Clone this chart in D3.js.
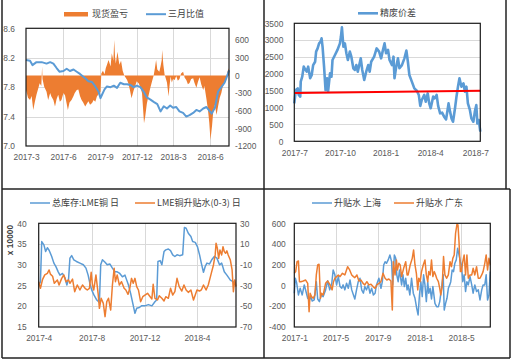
<!DOCTYPE html>
<html>
<head>
<meta charset="utf-8">
<script src="https://cdn.jsdelivr.net/npm/d3@7"></script>
<style>
  body { margin: 0; background: #fff; }
  svg { display: block; }
</style>
</head>
<body>
<script>
// ---- data ----
const p1Dates = ['2017-03-01', '2017-06-01', '2017-09-01', '2017-12-01', '2018-03-01', '2018-06-01']
const p1Left = [7.0, 7.4, 7.8, 8.2, 8.6]
const p1Right = [-1200, -900, -600, -300, 0, 300, 600]

// 现货盈亏 (right axis)
const spotPL = [
  ['2017-03-01', -250], ['2017-03-06', -380], ['2017-03-11', -420], ['2017-03-15', -350], ['2017-03-19', -590],
  ['2017-03-23', -450], ['2017-03-27', -330], ['2017-03-31', -230], ['2017-04-04', -135], ['2017-04-08', -180],
  ['2017-04-10', 150], ['2017-04-11', -60], ['2017-04-15', -190], ['2017-04-21', -280], ['2017-04-25', -420],
  ['2017-04-30', -300], ['2017-05-03', -360], ['2017-05-08', -420], ['2017-05-12', -530], ['2017-05-16', -400],
  ['2017-05-20', -330], ['2017-05-24', -450], ['2017-05-28', -420], ['2017-06-02', -300], ['2017-06-06', -340],
  ['2017-06-10', -480], ['2017-06-13', -590], ['2017-06-17', -460], ['2017-06-22', -420], ['2017-06-27', -350],
  ['2017-06-30', -300], ['2017-07-05', -250], ['2017-07-09', -240], ['2017-07-13', -350], ['2017-07-17', -420],
  ['2017-07-21', -460], ['2017-07-26', -530], ['2017-07-30', -480], ['2017-08-03', -440], ['2017-08-07', -500],
  ['2017-08-12', -470], ['2017-08-16', -420], ['2017-08-20', -450], ['2017-08-24', -360], ['2017-08-28', -320],
  ['2017-09-02', -280], ['2017-09-04', 30], ['2017-09-08', 80], ['2017-09-12', 20], ['2017-09-15', 120],
  ['2017-09-18', 180], ['2017-09-22', 260], ['2017-09-27', 150], ['2017-09-30', 375], ['2017-10-04', 250],
  ['2017-10-06', 600], ['2017-10-08', 320], ['2017-10-10', 200], ['2017-10-12', 300], ['2017-10-14', 400],
  ['2017-10-17', 260], ['2017-10-19', 180], ['2017-10-23', 250], ['2017-10-27', 80], ['2017-10-31', 0],
  ['2017-11-07', -80], ['2017-11-10', -135], ['2017-11-14', -250], ['2017-11-18', -390], ['2017-11-23', -260],
  ['2017-11-27', -180], ['2017-12-01', -100], ['2017-12-06', -140], ['2017-12-10', -200], ['2017-12-14', -300],
  ['2017-12-17', -600], ['2017-12-19', -815], ['2017-12-22', -700], ['2017-12-26', -480], ['2017-12-30', -350],
  ['2018-01-04', -200], ['2018-01-08', -100], ['2018-01-12', 0], ['2018-01-15', 120], ['2018-01-18', 260],
  ['2018-01-21', 100], ['2018-01-26', 60], ['2018-01-29', 150], ['2018-02-01', 260], ['2018-02-02', 430],
  ['2018-02-05', 180], ['2018-02-08', 20], ['2018-02-14', -120], ['2018-02-18', -360], ['2018-02-20', -200],
  ['2018-02-23', -20], ['2018-02-26', -120], ['2018-03-01', -60], ['2018-03-05', -80], ['2018-03-09', -10],
  ['2018-03-13', -90], ['2018-03-17', -60], ['2018-03-21', 30], ['2018-03-26', 60], ['2018-03-30', -40],
  ['2018-04-03', -80], ['2018-04-07', -150], ['2018-04-11', -130], ['2018-04-15', -60], ['2018-04-20', -50],
  ['2018-04-23', -120], ['2018-04-28', -210], ['2018-05-02', -110], ['2018-05-06', -30], ['2018-05-10', -150],
  ['2018-05-15', -250], ['2018-05-18', -180], ['2018-05-23', -400], ['2018-05-27', -600], ['2018-05-30', -800],
  ['2018-06-02', -1100], ['2018-06-06', -850], ['2018-06-09', -600], ['2018-06-13', -500], ['2018-06-17', -675],
  ['2018-06-21', -520], ['2018-06-25', -380], ['2018-06-29', -300], ['2018-07-02', -200], ['2018-07-07', -120],
  ['2018-07-11', -40], ['2018-07-14', 60], ['2018-07-18', 120]
]

// 三月比值 (left axis)
const ratio3m = [
  ['2017-03-01', 8.17], ['2017-03-11', 8.16], ['2017-03-17', 8.10], ['2017-03-27', 8.14], ['2017-04-09', 8.14],
  ['2017-04-21', 8.12], ['2017-04-30', 8.14], ['2017-05-08', 8.12], ['2017-05-16', 8.06], ['2017-05-23', 8.01],
  ['2017-06-02', 8.02], ['2017-06-10', 8.05], ['2017-06-18', 8.02], ['2017-06-27', 8.04], ['2017-07-05', 8.01],
  ['2017-07-13', 7.98], ['2017-07-26', 7.92], ['2017-08-03', 7.88], ['2017-08-12', 7.87], ['2017-08-20', 7.81],
  ['2017-08-28', 7.74], ['2017-09-02', 7.65], ['2017-09-06', 7.70], ['2017-09-12', 7.77], ['2017-09-18', 7.81],
  ['2017-09-27', 7.80], ['2017-10-05', 7.82], ['2017-10-13', 7.79], ['2017-10-21', 7.86], ['2017-10-30', 7.84],
  ['2017-11-07', 7.84], ['2017-11-15', 7.83], ['2017-11-23', 7.80], ['2017-12-01', 7.82], ['2017-12-10', 7.80],
  ['2017-12-18', 7.74], ['2017-12-26', 7.66], ['2018-01-04', 7.63], ['2018-01-12', 7.60], ['2018-01-21', 7.57],
  ['2018-01-29', 7.47], ['2018-02-06', 7.54], ['2018-02-14', 7.51], ['2018-02-22', 7.55], ['2018-03-01', 7.52],
  ['2018-03-09', 7.53], ['2018-03-17', 7.47], ['2018-03-26', 7.45], ['2018-04-03', 7.40], ['2018-04-11', 7.42],
  ['2018-04-20', 7.45], ['2018-04-28', 7.49], ['2018-05-06', 7.47], ['2018-05-15', 7.51], ['2018-05-23', 7.53],
  ['2018-05-30', 7.48], ['2018-06-05', 7.44], ['2018-06-13', 7.52], ['2018-06-21', 7.74], ['2018-06-29', 7.80],
  ['2018-07-07', 7.86], ['2018-07-16', 7.99], ['2018-07-18', 8.03]
]

const p2Dates = ['2017-07-01', '2017-10-01', '2018-01-01', '2018-04-01', '2018-07-01']
const p2Vals = [0, 500, 1000, 1500, 2000, 2500, 3000, 3500]

// 精废价差
const scrapSpread = [
  ['2017-07-01', 1125], ['2017-07-04', 1520], ['2017-07-08', 1570], ['2017-07-10', 1375], ['2017-07-13', 1325],
  ['2017-07-14', 1770], ['2017-07-17', 1915], ['2017-07-20', 2215], ['2017-07-22', 2160], ['2017-07-26', 2065],
  ['2017-07-29', 2215], ['2017-08-02', 1870], ['2017-08-05', 1960], ['2017-08-08', 2260], ['2017-08-12', 2360],
  ['2017-08-14', 2660], ['2017-08-17', 2755], ['2017-08-20', 2905], ['2017-08-23', 2955], ['2017-08-25', 3055],
  ['2017-08-27', 2800], ['2017-08-30', 2215], ['2017-09-02', 1520], ['2017-09-05', 1870], ['2017-09-07', 1470],
  ['2017-09-11', 2015], ['2017-09-14', 1915], ['2017-09-16', 2410], ['2017-09-21', 2560], ['2017-09-26', 2710],
  ['2017-10-01', 2905], ['2017-10-03', 3100], ['2017-10-05', 3380], ['2017-10-08', 2805], ['2017-10-11', 2905],
  ['2017-10-14', 2610], ['2017-10-17', 2410], ['2017-10-21', 2660], ['2017-10-24', 2510], ['2017-10-28', 2165],
  ['2017-10-31', 2115], ['2017-11-03', 2260], ['2017-11-06', 2065], ['2017-11-12', 2460], ['2017-11-15', 2115],
  ['2017-11-19', 1820], ['2017-11-23', 2065], ['2017-11-27', 2260], ['2017-11-30', 2065], ['2017-12-03', 2360],
  ['2017-12-09', 2510], ['2017-12-14', 2755], ['2017-12-19', 2660], ['2017-12-23', 2460], ['2017-12-26', 2660],
  ['2017-12-30', 2905], ['2018-01-02', 2610], ['2018-01-06', 2710], ['2018-01-09', 2410], ['2018-01-14', 2260],
  ['2018-01-17', 2510], ['2018-01-19', 1870], ['2018-01-22', 2165], ['2018-01-26', 2460], ['2018-01-29', 2165],
  ['2018-02-03', 2260], ['2018-02-08', 2460], ['2018-02-12', 2690], ['2018-02-15', 2360], ['2018-02-18', 1965],
  ['2018-02-23', 1770], ['2018-02-28', 1570], ['2018-03-05', 1500], ['2018-03-09', 1375], ['2018-03-12', 1050],
  ['2018-03-15', 1225], ['2018-03-20', 1375], ['2018-03-23', 1175], ['2018-03-27', 1420], ['2018-03-30', 1125],
  ['2018-04-02', 980], ['2018-04-07', 1325], ['2018-04-10', 1275], ['2018-04-14', 1375], ['2018-04-17', 1050],
  ['2018-04-21', 830], ['2018-04-25', 850], ['2018-04-29', 730], ['2018-05-03', 650], ['2018-05-06', 930],
  ['2018-05-08', 1125], ['2018-05-11', 880], ['2018-05-14', 680], ['2018-05-17', 580], ['2018-05-21', 980],
  ['2018-05-24', 1325], ['2018-05-27', 1620], ['2018-05-30', 1870], ['2018-06-03', 1620], ['2018-06-07', 1720],
  ['2018-06-10', 1470], ['2018-06-13', 1620], ['2018-06-16', 1125], ['2018-06-20', 930], ['2018-06-23', 680],
  ['2018-06-27', 580], ['2018-06-30', 880], ['2018-07-03', 1075], ['2018-07-05', 530], ['2018-07-08', 630],
  ['2018-07-11', 285]
]
// red trend line, start and end value
const spreadTrend = [1430, 1500]

const p3Dates = ['2017-04-01', '2017-08-01', '2017-12-01', '2018-04-01']
const p3Left = [15, 20, 25, 30, 35, 40]
const p3Right = [-70, -50, -30, -10, 10, 30]

// 总库存:LME铜 日 (left axis, x 10000)
const lmeStock = [
  ['2017-04-01', 25.1], ['2017-04-05', 25.9], ['2017-04-08', 35.6], ['2017-04-13', 34.8], ['2017-04-17', 33.2],
  ['2017-04-21', 34.1], ['2017-04-25', 33.5], ['2017-05-01', 32.0], ['2017-05-06', 30.4], ['2017-05-11', 29.5],
  ['2017-05-16', 28.3], ['2017-05-20', 27.5], ['2017-05-26', 27.9], ['2017-06-01', 26.7], ['2017-06-05', 25.1],
  ['2017-06-09', 26.7], ['2017-06-12', 31.6], ['2017-06-16', 32.2], ['2017-06-21', 31.2], ['2017-06-27', 30.8],
  ['2017-07-05', 30.4], ['2017-07-13', 30.0], ['2017-07-19', 29.2], ['2017-07-24', 27.5], ['2017-07-28', 25.5],
  ['2017-08-01', 24.0], ['2017-08-06', 22.8], ['2017-08-13', 21.5], ['2017-08-19', 20.9], ['2017-08-22', 30.0],
  ['2017-08-26', 31.2], ['2017-09-01', 30.6], ['2017-09-06', 30.0], ['2017-09-12', 30.2], ['2017-09-18', 29.2],
  ['2017-09-24', 28.3], ['2017-09-29', 28.3], ['2017-10-05', 27.9], ['2017-10-11', 27.1], ['2017-10-17', 27.5],
  ['2017-10-21', 26.3], ['2017-10-25', 25.1], ['2017-10-30', 23.1], ['2017-11-04', 20.7], ['2017-11-09', 18.3],
  ['2017-11-13', 19.5], ['2017-11-19', 19.7], ['2017-11-24', 20.1], ['2017-12-02', 20.1], ['2017-12-10', 20.4],
  ['2017-12-18', 20.1], ['2017-12-25', 21.1], ['2017-12-29', 21.5], ['2018-01-01', 30.8], ['2018-01-06', 31.0],
  ['2018-01-10', 30.0], ['2018-01-15', 33.2], ['2018-01-19', 33.6], ['2018-01-25', 33.8], ['2018-01-30', 33.4],
  ['2018-02-04', 32.4], ['2018-02-09', 32.0], ['2018-02-14', 32.4], ['2018-02-20', 32.2], ['2018-02-27', 32.4],
  ['2018-03-03', 39.0], ['2018-03-07', 38.8], ['2018-03-12', 37.6], ['2018-03-18', 36.8], ['2018-03-22', 35.6],
  ['2018-03-28', 35.4], ['2018-04-02', 34.4], ['2018-04-07', 32.4], ['2018-04-11', 30.4], ['2018-04-16', 28.2],
  ['2018-04-20', 29.6], ['2018-04-24', 30.4], ['2018-04-30', 30.2], ['2018-05-05', 31.2], ['2018-05-11', 32.0],
  ['2018-05-17', 31.6], ['2018-05-23', 30.0], ['2018-05-28', 30.4], ['2018-06-03', 28.3], ['2018-06-09', 27.5],
  ['2018-06-17', 26.3], ['2018-06-24', 25.9], ['2018-06-29', 25.1]
]

// LME铜升贴水(0-3) 日 (right axis)
const lmeSpread = [
  ['2017-04-01', -26.3], ['2017-04-05', -32.7], ['2017-04-10', -24], ['2017-04-15', -19.8], ['2017-04-21', -18.2],
  ['2017-04-25', -15.0], ['2017-04-28', -19], ['2017-05-03', -21], ['2017-05-07', -27.9], ['2017-05-14', -24.6],
  ['2017-05-18', -29.5], ['2017-05-24', -23.1], ['2017-05-29', -19.8], ['2017-06-03', -26.3], ['2017-06-09', -24.6],
  ['2017-06-12', -27.9], ['2017-06-18', -23.8], ['2017-06-23', -35.9], ['2017-06-29', -29.5], ['2017-07-05', -34.3],
  ['2017-07-11', -29.5], ['2017-07-17', -32.7], ['2017-07-22', -34.3], ['2017-07-27', -32.7], ['2017-07-31', -17.3],
  ['2017-08-03', -29.5], ['2017-08-06', -34.3], ['2017-08-11', -19.8], ['2017-08-16', -37.5], ['2017-08-19', -52.0],
  ['2017-08-23', -42.3], ['2017-08-28', -47.2], ['2017-09-01', -60.0], ['2017-09-05', -45.6], ['2017-09-09', -42.3],
  ['2017-09-14', -53.6], ['2017-09-18', -29.5], ['2017-09-22', -13.4], ['2017-09-25', -26.3], ['2017-09-29', -19.8],
  ['2017-10-04', -29.5], ['2017-10-09', -26.3], ['2017-10-15', -32.7], ['2017-10-19', -34.3], ['2017-10-24', -38.5],
  ['2017-10-28', -32.7], ['2017-11-01', -23.1], ['2017-11-05', -27.9], ['2017-11-09', -23.1], ['2017-11-13', -31.1],
  ['2017-11-17', -34.3], ['2017-11-22', -45.6], ['2017-11-27', -40.8], ['2017-12-02', -39.2], ['2017-12-08', -37.5],
  ['2017-12-14', -40.8], ['2017-12-18', -43.0], ['2017-12-21', -28.8], ['2017-12-25', -42.3], ['2017-12-31', -43.9],
  ['2018-01-04', -39.8], ['2018-01-10', -42.3], ['2018-01-15', -44.9], ['2018-01-19', -40.8], ['2018-01-25', -42.3],
  ['2018-01-30', -32.7], ['2018-02-04', -39.2], ['2018-02-09', -35.9], ['2018-02-14', -23.1], ['2018-02-19', -31.1],
  ['2018-02-25', -35.3], ['2018-03-02', -29.5], ['2018-03-07', -34.3], ['2018-03-12', -36.6], ['2018-03-18', -34.3],
  ['2018-03-24', -44.0], ['2018-03-28', -39.2], ['2018-04-01', -34.3], ['2018-04-07', -35.3], ['2018-04-11', -34.3],
  ['2018-04-16', -29.5], ['2018-04-22', -34.3], ['2018-04-27', -29.5], ['2018-05-01', -23.1], ['2018-05-05', -16.6],
  ['2018-05-09', -10.2], ['2018-05-13', -0.5], ['2018-05-15', 10.7], ['2018-05-18', 5.9], ['2018-05-21', -3.8],
  ['2018-05-24', 4.3], ['2018-05-28', -0.5], ['2018-05-31', 7.5], ['2018-06-03', 2.7], ['2018-06-06', 1.1],
  ['2018-06-09', 3.4], ['2018-06-12', -0.5], ['2018-06-17', -5.4], ['2018-06-21', -15.0], ['2018-06-24', -35.9],
  ['2018-06-27', -24.6], ['2018-06-30', -31.1]
]

const p4Dates = ['2017-01-01', '2017-05-01', '2017-09-01', '2018-01-01', '2018-05-01']
const p4Vals = [-400, -200, 0, 200, 400, 600]

// 升贴水 上海
const premSH = [
  ['2017-01-01', -74], ['2017-01-04', 70], ['2017-01-08', 22], ['2017-01-13', -91], ['2017-01-18', -27],
  ['2017-01-24', -91], ['2017-01-30', 6], ['2017-02-04', -58], ['2017-02-09', -123], ['2017-02-14', -139],
  ['2017-02-18', -107], ['2017-02-22', -149], ['2017-02-28', -139], ['2017-03-06', 37], ['2017-03-10', -130],
  ['2017-03-15', -155], ['2017-03-20', -91], ['2017-03-26', -107], ['2017-04-02', -42], ['2017-04-08', 45],
  ['2017-04-14', -42], ['2017-04-20', 22], ['2017-04-24', 150], ['2017-04-29', 103], ['2017-05-04', 6],
  ['2017-05-09', 86], ['2017-05-14', -10], ['2017-05-19', -27], ['2017-05-23', 6], ['2017-05-28', -42],
  ['2017-06-02', 22], ['2017-06-07', -27], ['2017-06-12', 54], ['2017-06-17', -42], ['2017-06-22', -91],
  ['2017-06-26', -130], ['2017-07-01', -42], ['2017-07-06', 37], ['2017-07-11', 70], ['2017-07-16', -42],
  ['2017-07-21', -74], ['2017-07-25', -10], ['2017-07-30', -42], ['2017-08-04', 6], ['2017-08-09', -74],
  ['2017-08-14', -27], ['2017-08-19', -91], ['2017-08-24', -74], ['2017-08-28', 6], ['2017-09-04', 70],
  ['2017-09-10', -27], ['2017-09-14', 37], ['2017-09-18', 198], ['2017-09-22', 230], ['2017-09-26', 214],
  ['2017-10-01', 247], ['2017-10-06', 295], ['2017-10-11', 230], ['2017-10-14', 6], ['2017-10-19', 295],
  ['2017-10-23', 263], ['2017-10-26', 103], ['2017-10-30', 37], ['2017-11-03', 150], ['2017-11-09', 6],
  ['2017-11-13', 103], ['2017-11-17', -10], ['2017-11-21', 70], ['2017-11-25', -42], ['2017-11-28', 6],
  ['2017-12-03', -91], ['2017-12-08', 70], ['2017-12-13', -74], ['2017-12-18', -123], ['2017-12-23', -220],
  ['2017-12-27', -284], ['2017-12-31', -91], ['2018-01-04', 37], ['2018-01-08', -107], ['2018-01-12', 103],
  ['2018-01-16', 6], ['2018-01-20', -155], ['2018-01-24', 37], ['2018-01-27', -74], ['2018-01-31', -27],
  ['2018-02-04', -130], ['2018-02-08', -10], ['2018-02-14', -172], ['2018-02-19', -204], ['2018-02-24', -204],
  ['2018-02-28', -155], ['2018-03-05', -27], ['2018-03-10', 103], ['2018-03-13', -236], ['2018-03-17', -172],
  ['2018-03-21', -123], ['2018-03-25', -27], ['2018-03-29', 6], ['2018-04-01', 37], ['2018-04-05', 150],
  ['2018-04-09', 134], ['2018-04-13', 215], ['2018-04-17', 247], ['2018-04-21', 359], ['2018-04-25', 295],
  ['2018-04-29', 230], ['2018-05-02', 198], ['2018-05-06', 37], ['2018-05-10', 103], ['2018-05-14', -58],
  ['2018-05-18', 37], ['2018-05-22', 6], ['2018-05-27', 86], ['2018-06-01', 6], ['2018-06-05', -74],
  ['2018-06-10', 6], ['2018-06-15', -58], ['2018-06-20', -42], ['2018-06-25', -139], ['2018-06-30', -42],
  ['2018-07-04', 6], ['2018-07-09', 6], ['2018-07-13', 103], ['2018-07-17', -139], ['2018-07-21', -91],
  ['2018-07-25', 135]
]

// 升贴水 广东
const premGD = [
  ['2017-01-01', 118], ['2017-01-05', 134], ['2017-01-09', 230], ['2017-01-13', 237], ['2017-01-16', 37],
  ['2017-01-20', 37], ['2017-01-27', 44], ['2017-02-03', 53], ['2017-02-09', 21], ['2017-02-13', -252],
  ['2017-02-16', -75], ['2017-02-20', -107], ['2017-02-25', -123], ['2017-03-02', -91], ['2017-03-06', 102],
  ['2017-03-10', 198], ['2017-03-14', 205], ['2017-03-18', -123], ['2017-03-21', -75], ['2017-03-26', -91],
  ['2017-04-02', 21], ['2017-04-08', 44], ['2017-04-15', 6], ['2017-04-21', -42], ['2017-04-25', 37],
  ['2017-04-29', 70], ['2017-05-04', 86], ['2017-05-09', 102], ['2017-05-14', 86], ['2017-05-21', 118],
  ['2017-05-28', 102], ['2017-06-05', 182], ['2017-06-11', 150], ['2017-06-17', 102], ['2017-06-22', 86],
  ['2017-06-26', 76], ['2017-07-02', 102], ['2017-07-08', 44], ['2017-07-14', 53], ['2017-07-20', 21],
  ['2017-07-25', 6], ['2017-07-31', 37], ['2017-08-06', 6], ['2017-08-12', 12], ['2017-08-18', -10],
  ['2017-08-24', -27], ['2017-08-29', 6], ['2017-09-04', 21], ['2017-09-10', 37], ['2017-09-16', 118],
  ['2017-09-22', 70], ['2017-09-27', 53], ['2017-10-03', 63], ['2017-10-09', 44], ['2017-10-13', -236],
  ['2017-10-16', 230], ['2017-10-21', 102], ['2017-10-25', 246], ['2017-10-28', 150], ['2017-11-01', 214],
  ['2017-11-05', 198], ['2017-11-09', 86], ['2017-11-15', 166], ['2017-11-21', 230], ['2017-11-25', 102],
  ['2017-11-28', 102], ['2017-12-04', 198], ['2017-12-10', 262], ['2017-12-14', 343], ['2017-12-18', 198],
  ['2017-12-22', 118], ['2017-12-26', -42], ['2017-12-29', 70], ['2018-01-02', 37], ['2018-01-06', 134],
  ['2018-01-11', 198], ['2018-01-16', 246], ['2018-01-20', 102], ['2018-01-24', 37], ['2018-01-27', 134],
  ['2018-01-31', 102], ['2018-02-04', 246], ['2018-02-08', 86], ['2018-02-12', 134], ['2018-02-16', 102],
  ['2018-02-19', 70], ['2018-02-24', 37], ['2018-02-28', -27], ['2018-03-03', -91], ['2018-03-07', -10],
  ['2018-03-11', 279], ['2018-03-15', 102], ['2018-03-20', 70], ['2018-03-25', 102], ['2018-03-30', 230],
  ['2018-04-03', 182], ['2018-04-07', 262], ['2018-04-11', 295], ['2018-04-15', 504], ['2018-04-19', 590],
  ['2018-04-22', 584], ['2018-04-25', 423], ['2018-04-29', 134], ['2018-05-02', 134], ['2018-05-06', 230],
  ['2018-05-10', 295], ['2018-05-14', 102], ['2018-05-18', 295], ['2018-05-22', 70], ['2018-05-27', 102],
  ['2018-06-01', 102], ['2018-06-05', 166], ['2018-06-10', 102], ['2018-06-15', 182], ['2018-06-20', 70],
  ['2018-06-25', 70], ['2018-06-30', 102], ['2018-07-04', 134], ['2018-07-09', 214], ['2018-07-13', 295],
  ['2018-07-17', 150], ['2018-07-21', 262], ['2018-07-25', 198]
]

// ---- drawing ----
const parse = d3.timeParse('%Y-%m-%d')
const fmtMonth = d3.timeFormat('%Y-%-m')
const BLUE = '#5b9bd5'
const ORANGE = '#ed7d31'
const GRID = '#d9d9d9'
const TICK_FONT = 'Liberation Sans, Arial, sans-serif'
const CJK_FONT = 'Noto Sans CJK SC, sans-serif'

let svg

function createSVG() {
  svg = d3.select('body').append('svg').attr('width', 513).attr('height', 362)
}

function plain(v) { return String(v) }

function leftAxis(y, x0, vals, pad, fmt) {
  svg.append('g')
    .attr('transform', `translate(${x0},0)`)
    .call(d3.axisLeft(y).tickValues(vals).tickSize(0).tickPadding(pad).tickFormat(fmt || plain))
    .call(g => g.select('.domain').remove())
    .attr('font-family', TICK_FONT).attr('font-size', 8.4)
    .style('color', '#595959')
}

function rightAxis(y, x0, vals, pad, fmt) {
  svg.append('g')
    .attr('transform', `translate(${x0},0)`)
    .call(d3.axisRight(y).tickValues(vals).tickSize(0).tickPadding(pad).tickFormat(fmt || plain))
    .call(g => g.select('.domain').remove())
    .attr('font-family', TICK_FONT).attr('font-size', 8.4)
    .style('color', '#595959')
}

function bottomAxis(x, y0, dates, pad) {
  svg.append('g')
    .attr('transform', `translate(0,${y0})`)
    .call(d3.axisBottom(x).tickValues(dates.map(parse)).tickSize(0).tickPadding(pad).tickFormat(fmtMonth))
    .call(g => g.select('.domain').remove())
    .attr('font-family', TICK_FONT).attr('font-size', 8.4)
    .style('color', '#595959')
}

function hGrid(y, vals, x1, x2) {
  svg.append('g').selectAll('line').data(vals).join('line')
    .attr('x1', x1).attr('x2', x2)
    .attr('y1', d => Math.round(y(d)) + 0.5).attr('y2', d => Math.round(y(d)) + 0.5)
    .attr('stroke', GRID).attr('stroke-width', 1)
}

function vGrid(x, dates, y1, y2) {
  svg.append('g').selectAll('line').data(dates.map(parse)).join('line')
    .attr('x1', d => Math.round(x(d)) + 0.5).attr('x2', d => Math.round(x(d)) + 0.5)
    .attr('y1', y1).attr('y2', y2)
    .attr('stroke', GRID).attr('stroke-width', 1)
}

function plotBorder(x1, y1, x2, y2) {
  svg.append('rect')
    .attr('x', x1).attr('y', y1).attr('width', x2 - x1).attr('height', y2 - y1)
    .attr('fill', 'none').attr('stroke', '#1a1a1a').attr('stroke-width', 1.2)
}

function drawLine(data, x, y, color, width) {
  svg.append('path')
    .datum(data)
    .attr('d', d3.line().x(d => x(parse(d[0]))).y(d => y(d[1])))
    .attr('fill', 'none').attr('stroke', color).attr('stroke-width', width)
    .attr('stroke-linejoin', 'round')
}

function legendLine(x, y, color, width, label) {
  svg.append('line')
    .attr('x1', x).attr('x2', x + 20).attr('y1', y).attr('y2', y)
    .attr('stroke', color).attr('stroke-width', width)
  svg.append('text')
    .attr('x', x + 22).attr('y', y).attr('dy', '0.35em')
    .attr('font-family', CJK_FONT).attr('font-size', 9).attr('fill', '#404040')
    .text(label)
}

function panelSpot() {
  const L = 26, R = 229, T = 28.3, B = 146
  const x = d3.scaleTime().domain([parse('2017-03-01'), parse('2018-07-18')]).range([L, R])
  const yL = d3.scaleLinear().domain([7.0, 8.6]).range([B, T])
  const yR = d3.scaleLinear().domain([-1200, 800]).range([B, T])

  hGrid(yL, p1Left.slice(1, -1), L, R)
  vGrid(x, p1Dates.slice(1), T, B)

  svg.append('path')
    .datum(spotPL)
    .attr('d', d3.area().x(d => x(parse(d[0]))).y0(yR(0)).y1(d => yR(d[1])))
    .attr('fill', ORANGE)

  drawLine(ratio3m, x, yL, BLUE, 2)
  plotBorder(L, T, R, B)

  leftAxis(yL, L, p1Left, 11, d3.format('.1f'))
  rightAxis(yR, R, p1Right, 6)
  bottomAxis(x, B, p1Dates, 8)

  svg.append('rect').attr('x', 64).attr('y', 12).attr('width', 24).attr('height', 4.5).attr('fill', ORANGE)
  svg.append('text')
    .attr('x', 92).attr('y', 14.2).attr('dy', '0.35em')
    .attr('font-family', CJK_FONT).attr('font-size', 9).attr('fill', '#404040')
    .text('现货盈亏')
  legendLine(146, 14.2, BLUE, 2, '三月比值')
}

function panelScrap() {
  const L = 294.3, R = 480.3, T = 23.3, B = 141.3
  const x = d3.scaleTime().domain([parse('2017-07-01'), parse('2018-07-11')]).range([L, R])
  const y = d3.scaleLinear().domain([0, 3500]).range([B, T])

  hGrid(y, p2Vals.slice(1, -1), L, R)
  drawLine(scrapSpread, x, y, BLUE, 2.6)

  svg.append('line')
    .attr('x1', x(parse(scrapSpread[0][0]))).attr('y1', y(spreadTrend[0]))
    .attr('x2', x(parse(scrapSpread[scrapSpread.length - 1][0]))).attr('y2', y(spreadTrend[1]))
    .attr('stroke', '#ff0000').attr('stroke-width', 2)

  plotBorder(L, T, R, B)
  leftAxis(y, L, p2Vals, 11)
  bottomAxis(x, B, p2Dates, 8.5)

  legendLine(358, 13.3, BLUE, 2.6, '精废价差')
}

function panelLME() {
  const L = 38.7, R = 236, T = 223.3, B = 327
  const x = d3.scaleTime().domain([parse('2017-04-01'), parse('2018-06-30')]).range([L, R])
  const yL = d3.scaleLinear().domain([15, 40]).range([B, T])
  const yR = d3.scaleLinear().domain([-70, 30]).range([B, T])

  hGrid(yL, p3Left.slice(1, -1), L, R)
  vGrid(x, p3Dates.slice(1), T, B)

  drawLine(lmeStock, x, yL, BLUE, 1.5)
  drawLine(lmeSpread, x, yR, ORANGE, 1.5)
  plotBorder(L, T, R, B)

  leftAxis(yL, L, p3Left, 12)
  rightAxis(yR, R, p3Right, 4)
  bottomAxis(x, B, p3Dates, 8)

  svg.append('text')
    .attr('transform', 'translate(10,240) rotate(-90)')
    .attr('text-anchor', 'middle').attr('dy', '0.35em')
    .attr('font-family', TICK_FONT).attr('font-size', 8.4).attr('font-weight', 'bold').attr('fill', '#404040')
    .text('x 10000')

  legendLine(30, 203, BLUE, 1.5, '总库存:LME铜 日')
  legendLine(135, 203, ORANGE, 1.5, 'LME铜升贴水(0-3) 日')
}

function panelPremium() {
  const L = 294.3, R = 490.3, T = 223.3, B = 327
  const x = d3.scaleTime().domain([parse('2017-01-01'), parse('2018-07-25')]).range([L, R])
  const y = d3.scaleLinear().domain([-400, 600]).range([B, T])

  hGrid(y, p4Vals.slice(1, -1), L, R)
  vGrid(x, p4Dates.slice(1), T, B)

  drawLine(premSH, x, y, BLUE, 1.5)
  drawLine(premGD, x, y, ORANGE, 1.5)
  plotBorder(L, T, R, B)

  leftAxis(y, L, p4Vals, 8.6)
  bottomAxis(x, B, p4Dates, 8)

  legendLine(312, 203, BLUE, 1.5, '升贴水 上海')
  legendLine(394, 203, ORANGE, 1.5, '升贴水 广东')
}

function createFrame() {
  const lines = [
    [2, 0, 2, 358], [264, 0, 264, 358], [2, 189, 510, 189],
    [2, 358, 510, 358], [510, 189, 510, 358], [506, 0, 506, 189]
  ]
  svg.append('g').selectAll('line').data(lines).join('line')
    .attr('x1', d => d[0]).attr('y1', d => d[1]).attr('x2', d => d[2]).attr('y2', d => d[3])
    .attr('stroke', '#222').attr('stroke-width', 1.5)
}

createSVG()
panelSpot()
panelScrap()
panelLME()
panelPremium()
createFrame()
</script>
</body>
</html>
